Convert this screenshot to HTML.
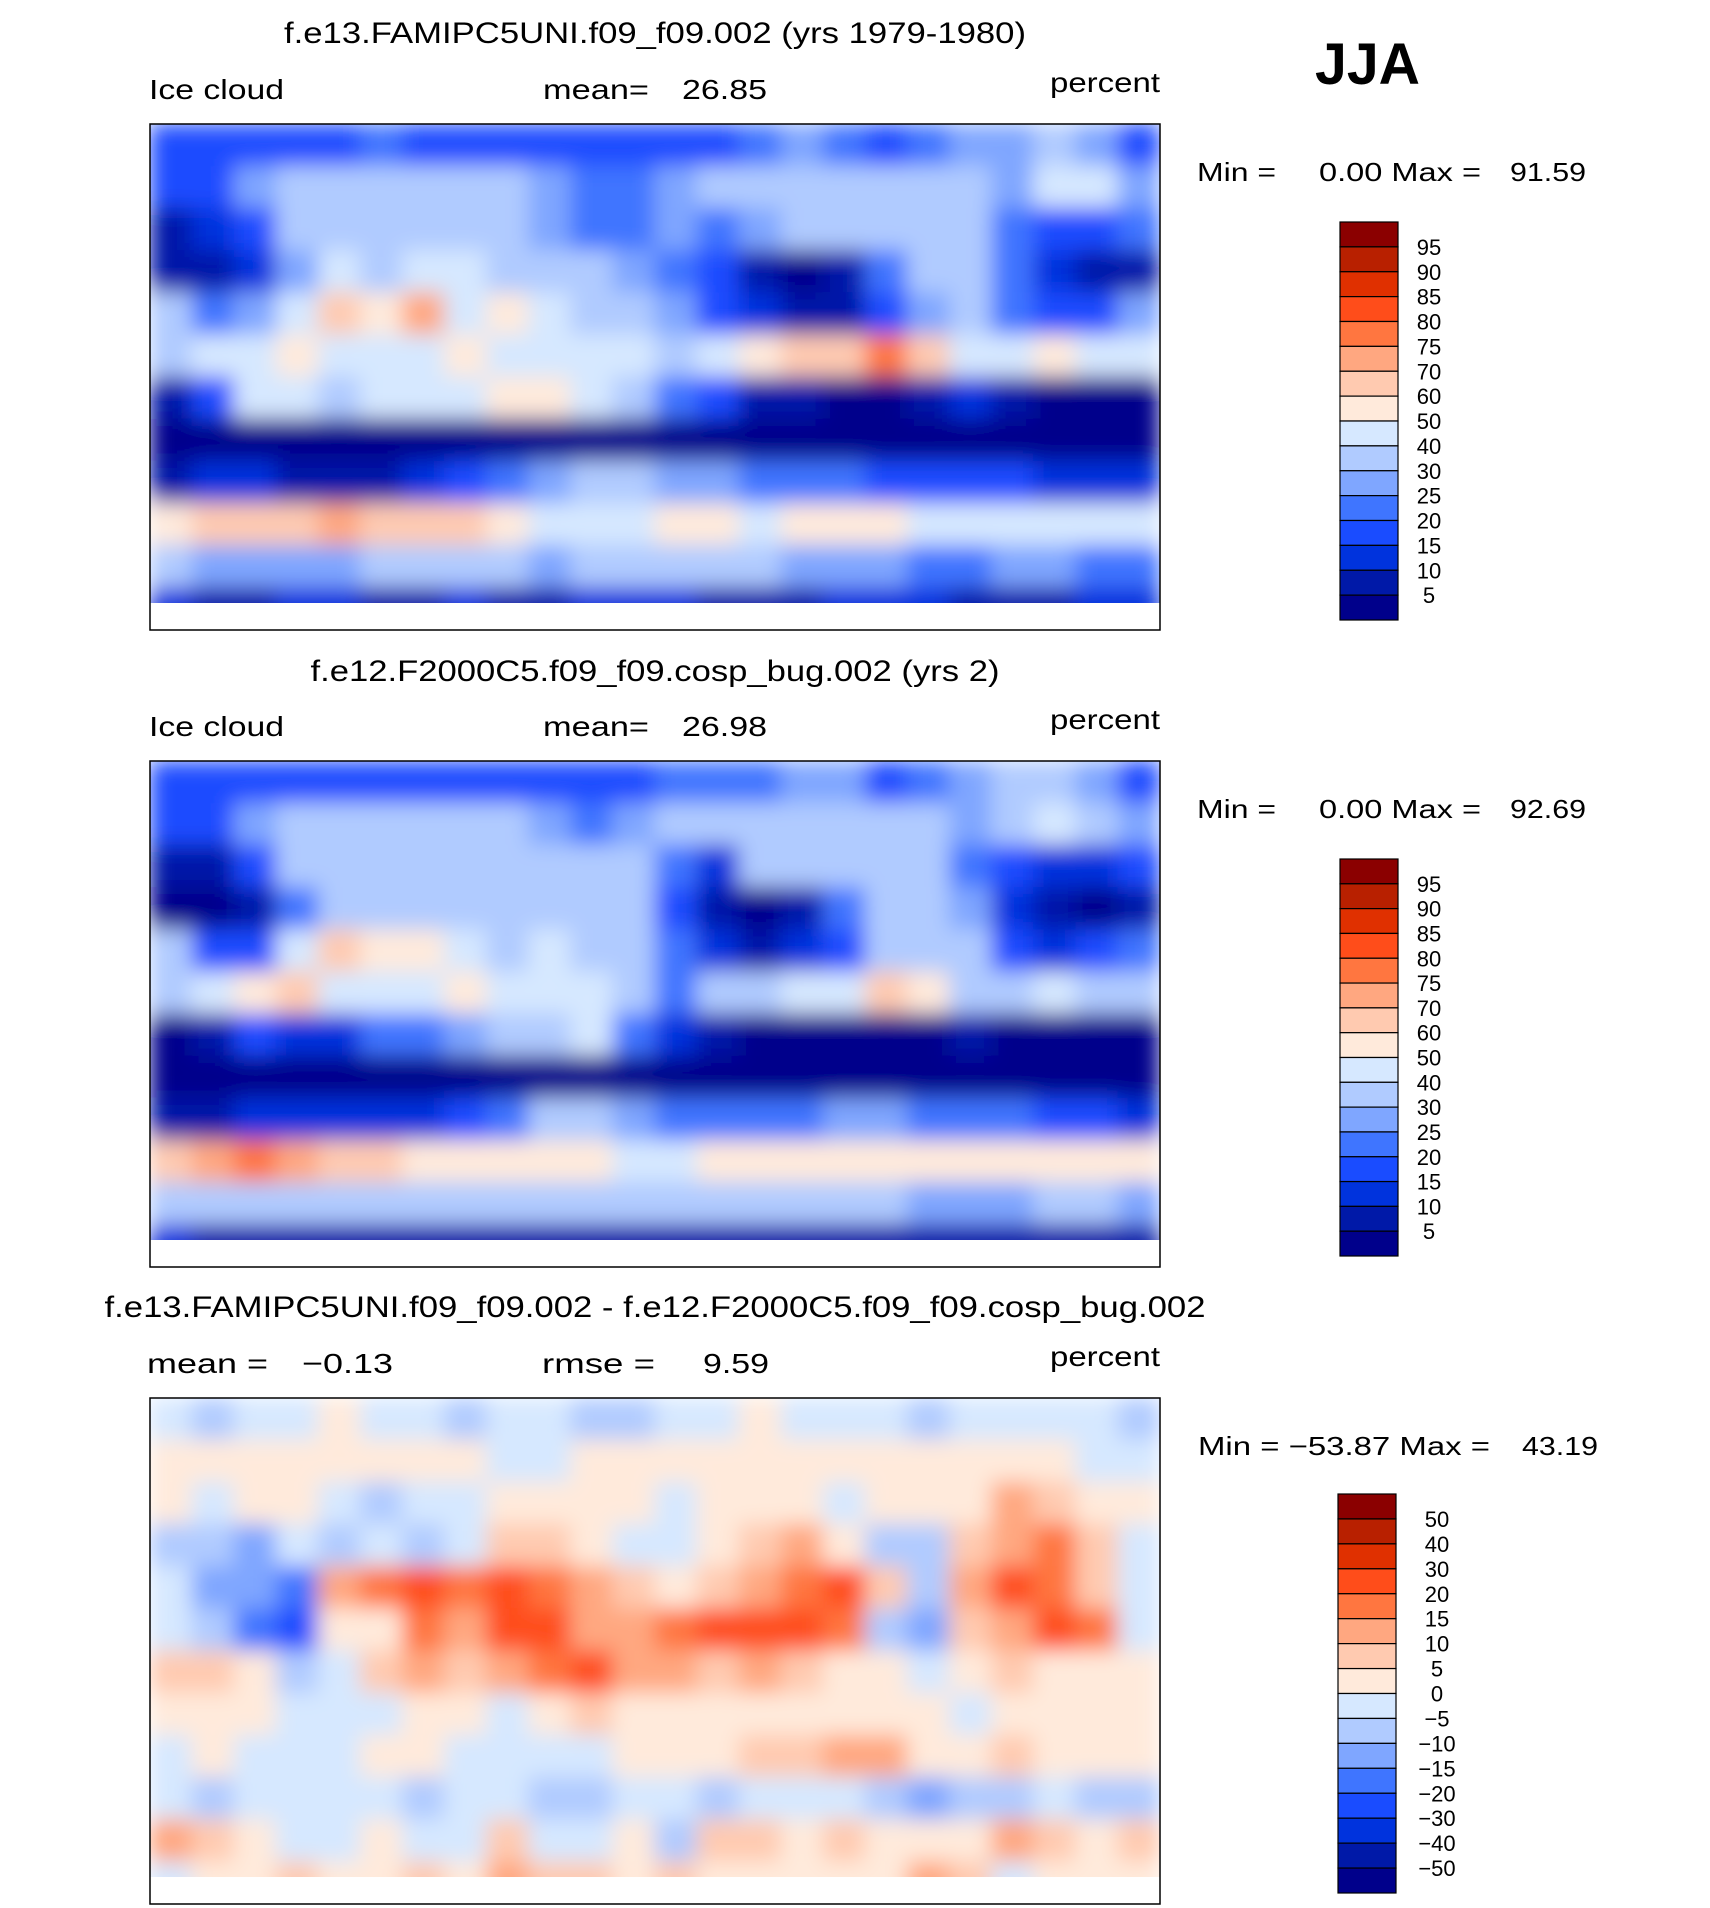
<!DOCTYPE html>
<html><head><meta charset="utf-8"><style>
html,body{margin:0;padding:0;background:#fff;}
svg{display:block;font-family:"Liberation Sans",Arial,sans-serif;}
</style></head><body>
<svg id="fig" width="1710" height="1908" viewBox="0 0 1710 1908">
<defs>
<filter id="sm" x="0" y="0" width="1" height="1"><feGaussianBlur stdDeviation="11" edgeMode="duplicate"/></filter>
</defs>
<g lengthAdjust="spacingAndGlyphs">
<text x="655" y="43" font-size="30" text-anchor="middle" textLength="742" lengthAdjust="spacingAndGlyphs">f.e13.FAMIPC5UNI.f09_f09.002 (yrs 1979-1980)</text>
<text x="1315" y="84" font-size="58" font-weight="bold" textLength="105" lengthAdjust="spacingAndGlyphs">JJA</text>
<text x="149" y="99" font-size="28" textLength="135" lengthAdjust="spacingAndGlyphs">Ice  cloud</text>
<text x="543" y="99" font-size="28" textLength="106" lengthAdjust="spacingAndGlyphs">mean=</text>
<text x="682" y="99" font-size="28" textLength="85" lengthAdjust="spacingAndGlyphs">26.85</text>
<text x="1160" y="92" font-size="28" text-anchor="end" textLength="110" lengthAdjust="spacingAndGlyphs">percent</text>

<text x="655" y="681" font-size="30" text-anchor="middle" textLength="689" lengthAdjust="spacingAndGlyphs">f.e12.F2000C5.f09_f09.cosp_bug.002 (yrs 2)</text>
<text x="149" y="736" font-size="28" textLength="135" lengthAdjust="spacingAndGlyphs">Ice  cloud</text>
<text x="543" y="736" font-size="28" textLength="106" lengthAdjust="spacingAndGlyphs">mean=</text>
<text x="682" y="736" font-size="28" textLength="85" lengthAdjust="spacingAndGlyphs">26.98</text>
<text x="1160" y="729" font-size="28" text-anchor="end" textLength="110" lengthAdjust="spacingAndGlyphs">percent</text>

<text x="655" y="1317" font-size="30" text-anchor="middle" textLength="1101" lengthAdjust="spacingAndGlyphs">f.e13.FAMIPC5UNI.f09_f09.002 - f.e12.F2000C5.f09_f09.cosp_bug.002</text>
<text x="147" y="1373" font-size="28" textLength="121" lengthAdjust="spacingAndGlyphs">mean  =</text>
<text x="302" y="1373" font-size="28" textLength="91" lengthAdjust="spacingAndGlyphs">−0.13</text>
<text x="542" y="1373" font-size="28" textLength="113" lengthAdjust="spacingAndGlyphs">rmse  =</text>
<text x="703" y="1373" font-size="28" textLength="66" lengthAdjust="spacingAndGlyphs">9.59</text>
<text x="1160" y="1366" font-size="28" text-anchor="end" textLength="110" lengthAdjust="spacingAndGlyphs">percent</text>

<text x="1197" y="181" font-size="26" textLength="79" lengthAdjust="spacingAndGlyphs">Min  =</text>
<text x="1319" y="181" font-size="26" textLength="162" lengthAdjust="spacingAndGlyphs">0.00 Max  =</text>
<text x="1510" y="181" font-size="26" textLength="76" lengthAdjust="spacingAndGlyphs">91.59</text>
<text x="1197" y="818" font-size="26" textLength="79" lengthAdjust="spacingAndGlyphs">Min  =</text>
<text x="1319" y="818" font-size="26" textLength="162" lengthAdjust="spacingAndGlyphs">0.00 Max  =</text>
<text x="1510" y="818" font-size="26" textLength="76" lengthAdjust="spacingAndGlyphs">92.69</text>
<text x="1198" y="1455" font-size="26" textLength="292" lengthAdjust="spacingAndGlyphs">Min  =  −53.87  Max  =</text>
<text x="1522" y="1455" font-size="26" textLength="76" lengthAdjust="spacingAndGlyphs">43.19</text>
</g>
<g id="maps"></g>
</svg>
<script>
const colors=["#00008B","#0019A8","#0033DD","#1A4CFF","#3F75FF","#7FA6FF","#B0CBFF","#D6E8FF","#FFEADB","#FFCAB0","#FFA780","#FF7640","#FF4D1A","#E03000","#B82000","#8B0000"];
const levelsAbs=[5,10,15,20,25,30,40,50,60,70,75,80,85,90,95];
const levelsDiff=[-50,-40,-30,-20,-15,-10,-5,0,5,10,15,20,30,40,50];
const field1=[
[17,17,15,17,17,20,17,17,17,15,17,17,17,17,20,25,20,17,20,25,25,30,25,17],
[15,15,25,30,35,30,30,35,30,25,20,20,25,30,35,35,30,30,30,30,25,40,40,25],
[8,10,15,30,35,35,30,35,35,25,20,20,25,20,25,30,30,30,35,30,20,15,15,20],
[5,5,10,25,40,35,40,40,30,30,30,25,20,15,5,3,5,20,30,30,20,10,5,8],
[30,20,25,45,65,55,70,40,50,45,35,30,25,15,10,5,8,15,25,35,20,15,15,25],
[35,40,45,55,45,40,40,55,45,40,45,40,35,40,55,60,65,75,60,40,45,50,45,40],
[5,15,45,40,35,40,45,45,55,50,40,30,20,15,8,5,3,3,5,10,5,3,3,3],
[2,2,3,3,3,3,3,3,2,3,3,3,3,3,2,2,2,2,3,3,2,2,2,2],
[8,10,10,8,8,8,10,15,20,25,30,30,25,25,20,20,20,15,15,15,15,10,10,10],
[50,60,65,65,70,65,65,60,55,45,45,45,50,50,45,50,55,50,45,40,40,40,40,45],
[30,25,25,25,25,30,35,35,30,25,30,30,35,35,30,25,25,25,20,20,25,25,20,20],
[10,8,8,10,10,8,8,10,8,8,10,10,10,8,8,8,10,10,10,8,8,8,10,10]];
const field2=[
[17,17,17,17,17,17,17,17,17,15,17,17,20,20,20,25,25,17,20,25,30,30,25,17],
[15,15,25,30,30,30,30,30,30,25,20,25,30,30,35,35,30,30,30,25,30,40,35,25],
[5,5,15,30,30,30,30,35,35,30,30,30,20,10,30,30,35,30,30,20,15,10,10,15],
[3,3,8,20,35,30,35,35,30,30,35,30,15,5,3,5,20,30,30,25,10,5,3,5],
[30,15,15,45,60,55,50,40,35,40,35,30,20,10,5,10,15,30,35,30,15,10,15,20],
[30,40,50,60,40,40,45,50,40,40,40,35,20,30,35,40,45,65,55,35,35,40,35,35],
[3,5,15,10,10,20,20,25,30,35,40,20,10,5,3,3,3,2,3,5,3,3,3,3],
[2,2,2,2,2,2,2,2,2,3,3,3,3,2,2,2,2,2,2,3,2,2,2,2],
[8,8,10,10,10,10,10,15,20,30,30,25,20,20,20,20,25,25,20,20,20,15,15,10],
[65,70,75,70,65,60,55,55,50,50,50,45,45,50,50,50,55,55,50,50,55,55,50,55],
[30,30,30,30,30,30,35,35,35,30,30,30,30,30,30,30,30,30,25,25,25,30,30,25],
[10,8,5,8,8,5,5,5,8,8,8,8,8,5,5,5,8,8,8,8,8,5,8,8]];
const field3=[
[-5,-10,-5,-5,0,-5,-5,-10,-5,-5,-10,-10,-5,-5,0,-5,-5,-5,-10,-5,-5,-5,-5,-10],
[3,3,0,3,3,3,0,3,-5,-5,0,3,3,0,3,3,0,3,3,3,0,3,-5,-5],
[3,-5,3,3,-5,-10,-5,-5,0,3,3,3,-5,3,3,3,-5,3,0,3,10,5,3,0],
[-10,-10,-15,-5,-10,-5,-10,-5,5,5,3,-5,-5,3,5,10,3,-10,-10,5,10,15,5,-5],
[-5,-15,-15,-20,10,15,20,15,20,15,10,5,3,5,10,15,20,5,-10,10,20,15,5,-5],
[-5,-10,-20,-25,3,3,15,10,25,20,10,10,15,20,25,25,15,-10,-15,5,10,20,15,-5],
[5,5,3,-10,-5,5,10,5,10,15,20,10,10,5,10,5,0,3,-5,3,5,3,3,3],
[3,3,3,-5,-5,-5,3,3,-5,3,5,3,3,3,3,3,3,3,3,-5,3,3,3,3],
[-5,3,-5,-5,-5,3,3,-5,-5,-5,-5,3,3,3,5,5,10,10,3,3,5,3,3,3],
[-5,-10,-5,-5,-5,-5,-10,-5,-5,-10,-10,-5,-5,-10,-5,-5,-5,-10,-15,-10,-10,-5,-10,-10],
[10,5,3,-5,-5,3,-5,-5,5,-5,-5,3,-10,5,5,3,5,3,3,3,10,5,3,5],
[-5,3,3,5,3,3,5,3,10,5,5,3,5,3,3,3,3,3,10,5,-5,3,3,3]];
const labelsAbs=["95","90","85","80","75","70","60","50","40","30","25","20","15","10","5"];
const labelsDiff=["50","40","30","20","15","10","5","0","−5","−10","−15","−20","−30","−40","−50"];

const NS="http://www.w3.org/2000/svg";
const root=document.getElementById('maps');
function mk(tag,attrs,parent){const e=document.createElementNS(NS,tag);for(const k in attrs)e.setAttribute(k,attrs[k]);(parent||root).appendChild(e);return e;}
function colorFor(v,lv){let i=0;while(i<lv.length&&v>=lv[i])i++;return colors[i];}
function drawMap(field,lv,y0,idx){
  const x0=150,w=1010,h=506;
  const g=mk('g',{});
  
  
  const cp=mk('clipPath',{id:'cp'+idx},g);mk('rect',{x:x0,y:y0,width:w,height:h},cp);
  const inner=mk('g',{'clip-path':'url(#cp'+idx+')'},g);
  const cells=mk('g',{filter:'url(#sm)'},inner);
  const rows=field.length,cols=field[0].length;
  const cw=w/cols,ch=h/rows;
  const xs=c=>x0+c*cw, ys=r=>y0+r*ch;
  for(let r=0;r<rows;r++)for(let c=0;c<cols;c++){
    const rc=mk('rect',{x:xs(c)-0.5,y:ys(r)-0.5,width:cw+1,height:ch+1,fill:colorFor(field[r][c],lv)},cells);
    
    
  }
  const wh=mk('rect',{x:x0,y:y0+h-27,width:w,height:27,fill:'#fff'},inner);
  
  
  const fr=mk('rect',{x:x0,y:y0,width:w,height:h,fill:'none',stroke:'#000','stroke-width':1.5},g);
  
  
}
function drawBar(lv,labels,x,y0,y1,lx,idx){
  const g=mk('g',{});
  
  
  const n=colors.length,bh=(y1-y0)/n;
  for(let i=0;i<n;i++){
    const r=mk('rect',{x:x,y:y0+i*bh,width:58,height:bh,fill:colors[n-1-i],stroke:'#000','stroke-width':1.2},g);
    
    
  }
  for(let i=0;i<labels.length;i++){
    const t=mk('text',{x:lx,y:y0+(i+1)*bh+8,'font-size':22,'text-anchor':'middle'},g);
    t.textContent=labels[i];
    
    
  }
}
drawMap(field1,levelsAbs,124,1);
drawMap(field2,levelsAbs,761,2);
drawMap(field3,levelsDiff,1398,3);
drawBar(levelsAbs,labelsAbs,1340,222,620,1429,1);
drawBar(levelsAbs,labelsAbs,1340,859,1256,1429,2);
drawBar(levelsDiff,labelsDiff,1338,1494,1893,1437,3);
</script>
</body></html>
